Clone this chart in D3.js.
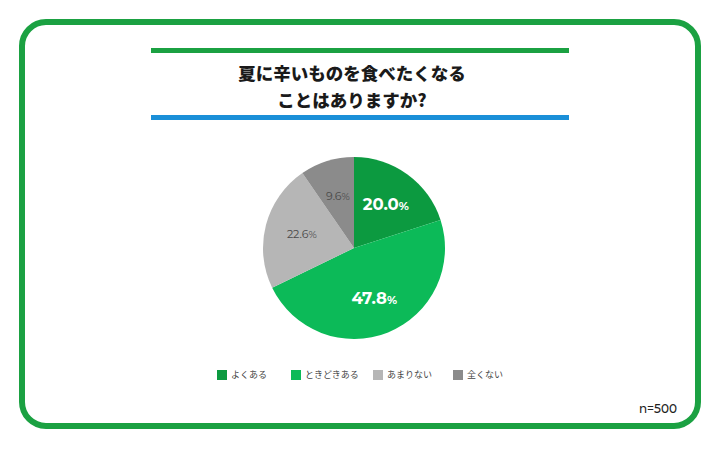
<!DOCTYPE html>
<html>
<head>
<meta charset="utf-8">
<script src="https://cdn.jsdelivr.net/npm/d3@7"></script>
<style>
  body { margin: 0; background: #fff; }
  svg { display: block; }
</style>
</head>
<body>
<div id="chart"></div>
<script>
// data
const titleLines = ["夏に辛いものを食べたくなる", "ことはありますか?"]
const categories = ["よくある", "ときどきある", "あまりない", "全くない"]
const values = [20.0, 47.8, 22.6, 9.6]
const colors = ["#0c9a40", "#0cba58", "#b6b6b6", "#8b8b8b"]
const sampleNote = "n=500"

const width = 720
const height = 452
const cx = 354, cy = 248, radius = 91

const svg = d3.select("#chart").append("svg")
    .attr("width", width)
    .attr("height", height)

// frame
svg.append("rect")
    .attr("x", 22).attr("y", 22)
    .attr("width", 676).attr("height", 404)
    .attr("rx", 24).attr("ry", 24)
    .attr("fill", "#fff")
    .attr("stroke", "#1ba142")
    .attr("stroke-width", 6)

// title bars
svg.append("rect").attr("x", 151).attr("y", 48).attr("width", 418).attr("height", 5).attr("fill", "#1ba142")
svg.append("rect").attr("x", 151).attr("y", 115).attr("width", 418).attr("height", 5).attr("fill", "#1a8fd8")

svg.selectAll("text.title")
    .data(titleLines)
    .enter()
    .append("text")
    .attr("class", "title")
    .attr("x", 352)
    .attr("y", (d, i) => 80 + i * 27)
    .attr("text-anchor", "middle")
    .attr("font-family", "'Noto Sans CJK JP', sans-serif")
    .attr("font-weight", 900)
    .attr("font-size", 17.5)
    .attr("fill", "#1a1a1a")
    .text(d => d)

// pie
const colorScale = d3.scaleOrdinal().domain(categories).range(colors)
const pie = d3.pie().sort(null).value(d => d.value)
const arcs = pie(categories.map((c, i) => ({ cat: c, value: values[i] })))
const arc = d3.arc().innerRadius(0).outerRadius(radius)
const labelArc = d3.arc().innerRadius(54).outerRadius(54)

const g = svg.append("g").attr("transform", `translate(${cx}, ${cy})`)

g.selectAll("path")
    .data(arcs)
    .enter()
    .append("path")
    .attr("d", arc)
    .attr("fill", d => colorScale(d.data.cat))

const labels = g.selectAll("text")
    .data(arcs)
    .enter()
    .append("text")
    .attr("transform", d => `translate(${labelArc.centroid(d)})`)
    .attr("text-anchor", "middle")
    .attr("dy", "0.35em")
    .attr("font-family", "Montserrat, 'Noto Sans', sans-serif")
    .attr("font-weight", (d, i) => i < 2 ? 700 : 400)
    .attr("font-size", (d, i) => i < 2 ? 16.5 : 11)
    .attr("fill", (d, i) => i < 2 ? "#fff" : "#4a4a4a")

labels.append("tspan").text(d => d.data.value.toFixed(1))
labels.append("tspan")
    .attr("font-size", (d, i) => i < 2 ? 11.5 : 10)
    .text("%")

// legend
const legendX = [217, 291, 373, 453]
const legend = svg.selectAll("g.legend")
    .data(categories)
    .enter()
    .append("g")
    .attr("class", "legend")
    .attr("transform", (d, i) => `translate(${legendX[i]}, 370)`)

legend.append("rect")
    .attr("width", 10).attr("height", 10)
    .attr("fill", d => colorScale(d))

legend.append("text")
    .attr("x", 14).attr("y", 5)
    .attr("dy", "0.35em")
    .attr("font-family", "'Noto Sans CJK JP', sans-serif")
    .attr("font-size", 9)
    .attr("fill", "#444")
    .text(d => d)

svg.append("text")
    .attr("x", 677).attr("y", 413)
    .attr("text-anchor", "end")
    .attr("font-family", "Montserrat, 'Noto Sans', sans-serif")
    .attr("font-size", 12)
    .attr("font-weight", 500)
    .attr("fill", "#222")
    .text(sampleNote)
</script>
</body>
</html>
